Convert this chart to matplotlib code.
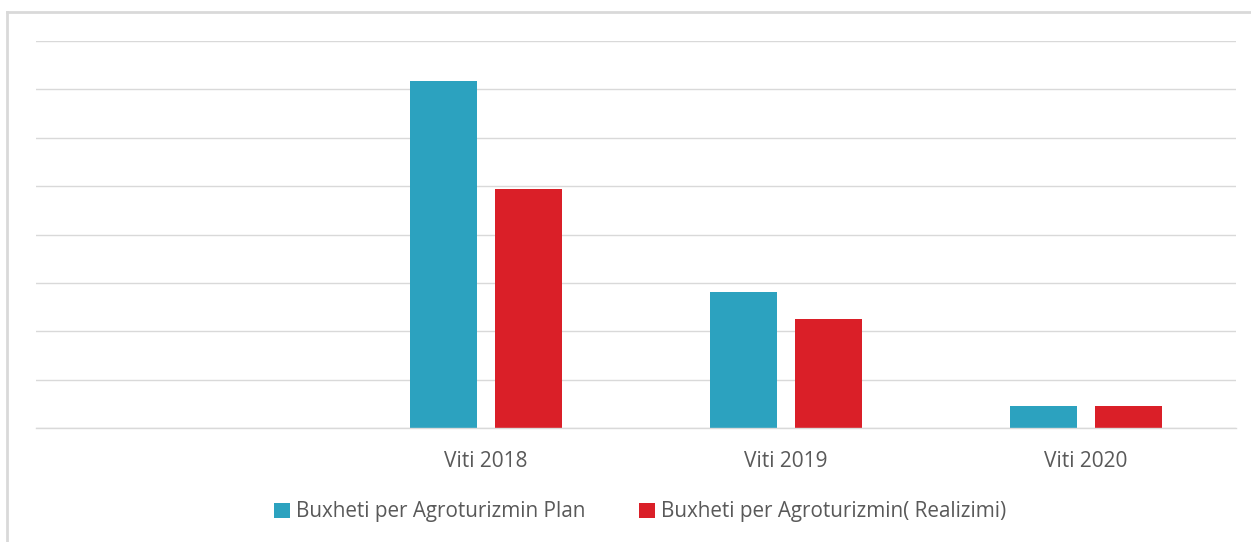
import matplotlib
matplotlib.use("Agg")
import matplotlib.pyplot as plt
from matplotlib.lines import Line2D
import numpy as np

categories = ["", "Viti 2018", "Viti 2019", "Viti 2020"]
plan = [0, 7.17, 2.81, 0.45]
realizimi = [0, 4.94, 2.25, 0.45]
series_names = ["Buxheti per Agroturizmin Plan", "Buxheti per Agroturizmin( Realizimi)"]
colors = ["#2CA2BF", "#DA1F28"]

W, H = 1251, 542
fig = plt.figure(figsize=(W / 100, H / 100), dpi=100)
fig.patch.set_facecolor("white")

# outer frame (only top and left visible in crop)
fig.add_artist(Line2D([7 / W, 7 / W], [0, 1 - 12 / H], transform=fig.transFigure, color="#D9D9D9", lw=2))
fig.add_artist(Line2D([7 / W, 1], [1 - 12 / H, 1 - 12 / H], transform=fig.transFigure, color="#D9D9D9", lw=2))

left, right = 36, 1236
top, bottom = 41, 428
ax = fig.add_axes([left / W, 1 - bottom / H, (right - left) / W, (bottom - top) / H])
ax.set_xlim(-0.5, 3.5)
ax.set_ylim(0, 8)
ax.set_yticks(np.arange(0, 9, 1))
ax.yaxis.grid(True, color="#D9D9D9", lw=1)
ax.set_axisbelow(True)
for s in ax.spines.values():
    s.set_visible(False)
ax.spines["bottom"].set_visible(True)
ax.spines["bottom"].set_color("#D9D9D9")
ax.spines["bottom"].set_linewidth(1)
ax.tick_params(left=False, labelleft=False, bottom=False)

x = np.arange(len(categories))
bw = 0.225
off = 0.142
ax.bar(x - off, plan, width=bw, color=colors[0], label=series_names[0])
ax.bar(x + off, realizimi, width=bw, color=colors[1], label=series_names[1])
ax.set_xticks(x)
ax.set_xticklabels(categories, fontsize=15, color="#595959", family="Open Sans")
ax.tick_params(axis="x", pad=13)

leg = fig.legend(loc="center", bbox_to_anchor=(640 / W, 1 - 512 / H), ncol=2, frameon=False,
                 prop={"family": "Open Sans", "size": 14.9}, handlelength=0.75, handleheight=0.75,
                 handletextpad=0.3, columnspacing=2.6, labelcolor="#595959")

fig.savefig("out.png", dpi=100, facecolor="white")
